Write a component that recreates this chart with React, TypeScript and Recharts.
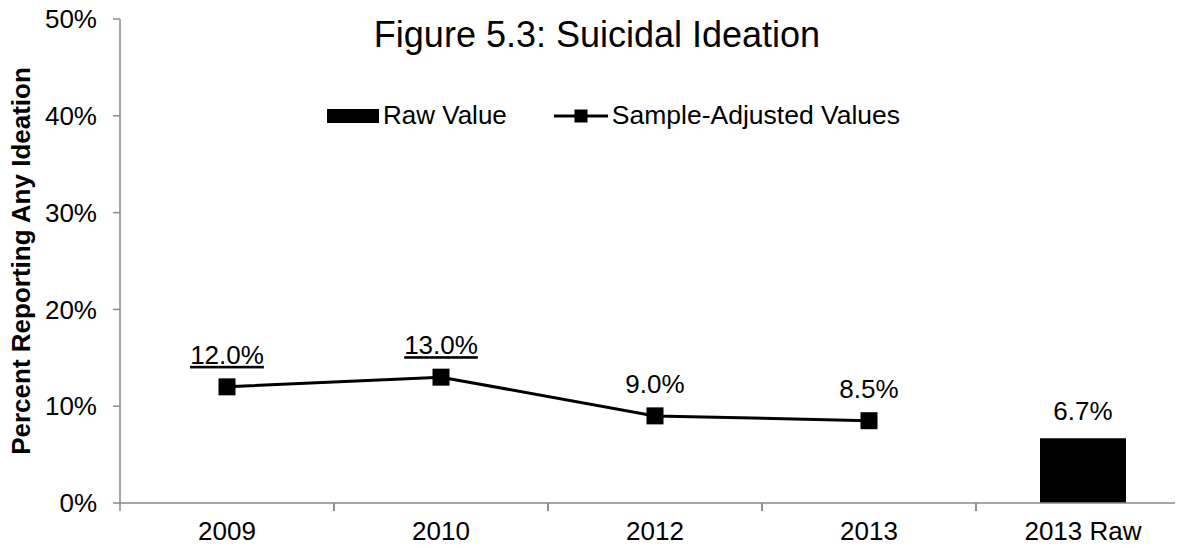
import React from "react";
import { ComposedChart, Bar, Line, XAxis, YAxis, Legend, LabelList } from "recharts";

const categories = ["2009", "2010", "2012", "2013", "2013 Raw"];
const adjustedValues = [12.0, 13.0, 9.0, 8.5, null];
const rawValues = [null, null, null, null, 6.7];
const underlinedLabels = ["2009", "2010"];
const yTicks = [0, 10, 20, 30, 40, 50];

const data = categories.map((name, i) => ({
  name,
  adjusted: adjustedValues[i],
  raw: rawValues[i],
}));

const CHART_W = 1200;
const CHART_H = 548;
const MARGIN = { top: 19, right: 10, bottom: 0, left: 0 };
const Y_AXIS_W = 120;
const BAND = (CHART_W - MARGIN.left - MARGIN.right - Y_AXIS_W) / categories.length;

const AXIS_COLOR = "#898989";
const FONT = "'Liberation Sans', Arial, sans-serif";

const fmt = (v: number) => `${v.toFixed(1)}%`;

// square marker for the adjusted series
const SquareDot = (props: any) => {
  const { cx, cy } = props;
  if (cx == null || cy == null) return null;
  return <rect x={cx - 8.5} y={cy - 8.5} width={17} height={17} fill="#000" />;
};

// category label plus an Excel-style tick on the band edges
// (recharts passes y already pushed down by tickSize + tickMargin = 8)
const XTick = (props: any) => {
  const { x, y, payload } = props;
  const top = y - 8;
  const left = x - BAND / 2;
  return (
    <g>
      <line x1={left} y1={top} x2={left} y2={top + 8} stroke={AXIS_COLOR} strokeWidth={1.5} />
      <line x1={left + BAND} y1={top} x2={left + BAND} y2={top + 8} stroke={AXIS_COLOR} strokeWidth={1.5} />
      <text x={x} y={top + 37} textAnchor="middle" fontSize={26} fill="#000" fontFamily={FONT}>
        {payload.value}
      </text>
    </g>
  );
};

const LineLabel = (props: any) => {
  const { x, y, value, index } = props;
  if (value == null) return null;
  const underline = underlinedLabels.includes(categories[index]);
  return (
    <text
      x={x}
      y={y - 23}
      textAnchor="middle"
      fontSize={26}
      fontFamily={FONT}
      fill="#000"
      style={{ textDecoration: underline ? "underline" : "none" }}
    >
      {fmt(value)}
    </text>
  );
};

const BarLabel = (props: any) => {
  const { x, y, width, value } = props;
  if (value == null) return null;
  return (
    <text x={x + width / 2} y={y - 18} textAnchor="middle" fontSize={26} fontFamily={FONT} fill="#000">
      {fmt(value)}
    </text>
  );
};

const LegendContent = () => (
  <div
    style={{
      display: "flex",
      alignItems: "center",
      paddingLeft: 327,
      fontFamily: FONT,
      fontSize: 26,
      color: "#000",
    }}
  >
    <span style={{ display: "inline-block", width: 52, height: 14, background: "#000" }} />
    <span style={{ marginLeft: 4 }}>Raw Value</span>
    <svg width={54} height={20} style={{ marginLeft: 47 }}>
      <line x1={0} y1={10} x2={54} y2={10} stroke="#000" strokeWidth={3} />
      <rect x={20.5} y={3.5} width={13} height={13} fill="#000" />
    </svg>
    <span style={{ marginLeft: 4, fontSize: 26.5 }}>Sample-Adjusted Values</span>
  </div>
);

export default function App() {
  return (
    <div style={{ width: 1183, height: CHART_H, margin: -8, overflow: "hidden", position: "relative", background: "#fff" }}>
      <div
        style={{
          position: "absolute",
          left: 0,
          width: 1194,
          top: 14,
          textAlign: "center",
          fontFamily: FONT,
          fontSize: 36,
          color: "#000",
          zIndex: 1,
        }}
      >
        Figure 5.3: Suicidal Ideation
      </div>
      <ComposedChart width={CHART_W} height={CHART_H} data={data} margin={MARGIN}>
        <XAxis
          dataKey="name"
          height={45}
          stroke={AXIS_COLOR}
          strokeWidth={1.5}
          tickLine={false}
          tick={<XTick />}
          interval={0}
        />
        <YAxis
          width={Y_AXIS_W}
          domain={[0, 50]}
          ticks={yTicks}
          interval={0}
          stroke={AXIS_COLOR}
          strokeWidth={1.5}
          tickSize={7}
          tickMargin={16}
          tick={{ fill: "#000", fontSize: 26, fontFamily: FONT }}
          tickFormatter={(v: number) => `${v}%`}
          label={{
            value: "Percent Reporting Any Ideation",
            angle: -90,
            position: "insideLeft",
            dx: 16,
            dy: 0,
            style: { textAnchor: "middle", fontWeight: "bold", fontSize: 26, fontFamily: FONT, fill: "#000" },
          }}
        />
        <Legend
          layout="horizontal"
          verticalAlign="middle"
          align="center"
          content={<LegendContent />}
          wrapperStyle={{ top: 100, left: 0, width: CHART_W }}
        />
        <Bar dataKey="raw" name="Raw Value" fill="#000" barSize={86} isAnimationActive={false}>
          <LabelList dataKey="raw" content={<BarLabel />} />
        </Bar>
        <Line
          dataKey="adjusted"
          name="Sample-Adjusted Values"
          stroke="#000"
          strokeWidth={3}
          dot={<SquareDot />}
          activeDot={false}
          isAnimationActive={false}
        >
          <LabelList dataKey="adjusted" content={<LineLabel />} />
        </Line>
      </ComposedChart>
    </div>
  );
}
